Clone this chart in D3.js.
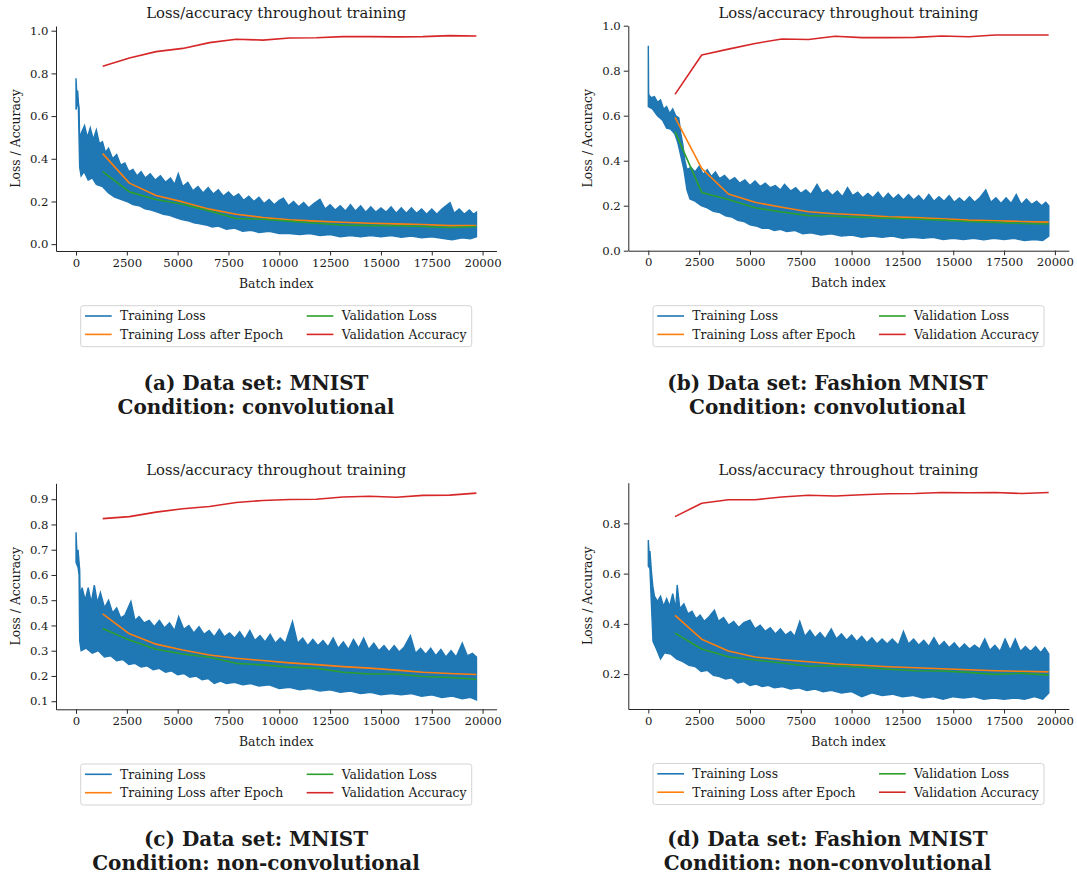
<!DOCTYPE html>
<html>
<head>
<meta charset="utf-8">
<script src="https://cdn.jsdelivr.net/npm/d3@7"></script>
<style>
  body { margin: 0; background: #fff; }
  svg { display: block; }
  text { font-family: "DejaVu Serif", serif; fill: #1a1a1a; }
  .domain, .tick line { stroke: #262626; }
</style>
</head>
<body>
<svg id="chart" width="1077" height="875"></svg>
<script>
// epoch end positions (batch index), shared by all panels
var epochBatches = [1313, 2626, 3939, 5252, 6565, 7878, 9191, 10504, 11817, 13130, 14443, 15756, 17069, 18382, 19695];

var xTicks = [0, 2500, 5000, 7500, 10000, 12500, 15000, 17500, 20000];
var seriesNames = ["Training Loss", "Training Loss after Epoch", "Validation Loss", "Validation Accuracy"];
var seriesColors = ["#1f77b4", "#ff7f0e", "#2ca02c", "#d62728"];

// (a) MNIST, convolutional
var mnistConvEpochLoss = [0.424, 0.286, 0.228, 0.198, 0.164, 0.140, 0.125, 0.114, 0.108, 0.103, 0.098, 0.095, 0.092, 0.087, 0.087];
var mnistConvValLoss = [0.340, 0.245, 0.209, 0.187, 0.156, 0.120, 0.117, 0.108, 0.098, 0.089, 0.087, 0.086, 0.083, 0.078, 0.083];
var mnistConvValAcc = [0.833, 0.872, 0.902, 0.917, 0.944, 0.960, 0.956, 0.966, 0.967, 0.972, 0.972, 0.971, 0.972, 0.977, 0.975];
// noisy training loss, read as upper and lower edge of the band [batch, loss]
var mnistConvTrainHi = [[0,0.777],[40,0.70],[80,0.72],[120,0.66],[150,0.64],[175,0.50],[300,0.53],[420,0.555],[560,0.50],[700,0.545],[850,0.49],[1000,0.535],[1150,0.47],[1300,0.48],[1450,0.43],[1600,0.45],[1800,0.40],[2000,0.42],[2200,0.37],[2400,0.38],[2600,0.34],[2800,0.35],[3000,0.32],[3200,0.34],[3400,0.31],[3650,0.33],[3900,0.30],[4150,0.32],[4400,0.29],[4650,0.31],[4850,0.28],[5030,0.33],[5250,0.27],[5500,0.29],[5750,0.25],[6000,0.27],[6250,0.24],[6500,0.265],[6750,0.235],[7000,0.255],[7250,0.225],[7500,0.245],[7750,0.22],[8000,0.235],[8250,0.205],[8500,0.225],[8750,0.20],[9000,0.22],[9250,0.19],[9500,0.21],[9750,0.185],[10000,0.205],[10200,0.215],[10450,0.18],[10700,0.20],[10950,0.175],[11200,0.195],[11450,0.17],[11700,0.19],[12000,0.21],[12250,0.165],[12500,0.185],[12750,0.16],[13000,0.18],[13250,0.155],[13500,0.185],[13750,0.155],[14000,0.18],[14250,0.15],[14500,0.175],[14750,0.15],[15000,0.17],[15250,0.15],[15500,0.175],[15750,0.145],[16000,0.17],[16250,0.145],[16500,0.17],[16750,0.145],[17000,0.165],[17250,0.14],[17500,0.165],[17750,0.14],[18000,0.165],[18400,0.195],[18600,0.145],[18850,0.165],[19100,0.14],[19350,0.16],[19550,0.14],[19700,0.15]];
var mnistConvTrainLo = [[0,0.63],[60,0.66],[115,0.645],[180,0.36],[250,0.32],[400,0.34],[600,0.30],[800,0.31],[1000,0.28],[1300,0.27],[1600,0.24],[1900,0.22],[2200,0.21],[2500,0.20],[2800,0.185],[3100,0.18],[3400,0.165],[3700,0.16],[4000,0.15],[4300,0.14],[4600,0.135],[4900,0.125],[5200,0.115],[5500,0.11],[5800,0.10],[6100,0.095],[6400,0.09],[6700,0.08],[7000,0.085],[7400,0.07],[7800,0.075],[8200,0.06],[8600,0.065],[9000,0.055],[9500,0.06],[10000,0.05],[10500,0.05],[11000,0.045],[11500,0.05],[12000,0.04],[12500,0.045],[13000,0.035],[13500,0.04],[14000,0.035],[14500,0.04],[15000,0.035],[15500,0.04],[16000,0.032],[16500,0.038],[17000,0.03],[17500,0.035],[18000,0.028],[18500,0.02],[19000,0.03],[19400,0.025],[19700,0.035]];

// (b) Fashion MNIST, convolutional
var fashionConvEpochLoss = [0.593, 0.366, 0.252, 0.215, 0.193, 0.173, 0.164, 0.159, 0.151, 0.147, 0.142, 0.136, 0.133, 0.130, 0.127];
var fashionConvValLoss = [0.529, 0.259, 0.228, 0.191, 0.172, 0.156, 0.153, 0.148, 0.144, 0.141, 0.136, 0.130, 0.126, 0.121, 0.119];
var fashionConvValAcc = [0.695, 0.870, 0.896, 0.921, 0.941, 0.939, 0.953, 0.947, 0.947, 0.948, 0.954, 0.951, 0.959, 0.959, 0.959];
var fashionConvTrainHi = [[0,0.911],[15,0.70],[40,0.69],[150,0.68],[300,0.685],[450,0.66],[600,0.67],[750,0.63],[900,0.64],[1050,0.61],[1200,0.63],[1350,0.60],[1500,0.59],[1600,0.52],[1700,0.47],[1800,0.40],[1900,0.36],[2100,0.37],[2300,0.35],[2500,0.375],[2700,0.34],[2900,0.36],[3100,0.33],[3300,0.35],[3500,0.32],[3750,0.335],[4000,0.31],[4250,0.325],[4500,0.30],[4750,0.315],[5000,0.29],[5250,0.31],[5500,0.285],[5750,0.30],[6000,0.28],[6250,0.29],[6500,0.27],[6700,0.295],[7000,0.265],[7250,0.28],[7500,0.255],[7750,0.27],[8000,0.25],[8300,0.295],[8550,0.255],[8800,0.27],[9050,0.245],[9300,0.265],[9550,0.24],[9800,0.28],[10050,0.245],[10300,0.26],[10550,0.235],[10800,0.255],[11050,0.235],[11300,0.26],[11550,0.23],[11800,0.255],[12050,0.23],[12300,0.25],[12550,0.225],[12800,0.25],[13050,0.225],[13300,0.245],[13550,0.22],[13800,0.25],[14050,0.22],[14300,0.24],[14550,0.22],[14800,0.245],[15050,0.215],[15300,0.235],[15550,0.215],[15800,0.24],[16050,0.215],[16300,0.235],[16600,0.27],[16850,0.215],[17100,0.235],[17350,0.21],[17600,0.235],[17850,0.21],[18100,0.25],[18350,0.205],[18600,0.23],[18850,0.205],[19100,0.22],[19350,0.20],[19550,0.215],[19700,0.20]];
var fashionConvTrainLo = [[0,0.64],[200,0.63],[450,0.60],[700,0.58],[900,0.545],[1100,0.54],[1300,0.52],[1450,0.48],[1600,0.42],[1750,0.36],[1900,0.27],[2050,0.23],[2300,0.22],[2600,0.20],[2900,0.19],[3200,0.175],[3500,0.17],[3800,0.155],[4100,0.15],[4400,0.135],[4700,0.13],[5000,0.115],[5300,0.11],[5600,0.10],[5900,0.10],[6200,0.09],[6500,0.095],[6800,0.085],[7200,0.09],[7600,0.075],[8000,0.08],[8500,0.07],[9000,0.075],[9500,0.065],[10000,0.07],[10500,0.06],[11000,0.065],[11500,0.06],[12000,0.065],[12500,0.055],[13000,0.06],[13500,0.055],[14000,0.06],[14500,0.05],[15000,0.055],[15500,0.05],[16000,0.055],[16500,0.048],[17000,0.055],[17500,0.05],[18000,0.055],[18500,0.045],[19000,0.05],[19400,0.045],[19700,0.065]];

// (c) MNIST, non-convolutional
var mnistDenseEpochLoss = [0.446, 0.367, 0.326, 0.303, 0.283, 0.270, 0.261, 0.252, 0.245, 0.237, 0.231, 0.223, 0.215, 0.210, 0.206];
var mnistDenseValLoss = [0.388, 0.342, 0.306, 0.287, 0.274, 0.250, 0.244, 0.235, 0.231, 0.215, 0.208, 0.208, 0.198, 0.194, 0.187];
var mnistDenseValAcc = [0.823, 0.831, 0.849, 0.862, 0.871, 0.887, 0.895, 0.899, 0.900, 0.909, 0.912, 0.908, 0.915, 0.916, 0.924];
var mnistDenseTrainHi = [[0,0.769],[60,0.66],[100,0.70],[180,0.62],[200,0.52],[300,0.55],[450,0.50],[600,0.55],[750,0.49],[900,0.56],[1050,0.49],[1200,0.53],[1400,0.47],[1600,0.50],[1800,0.45],[2000,0.47],[2200,0.43],[2400,0.44],[2700,0.495],[2900,0.42],[3100,0.435],[3350,0.41],[3600,0.42],[3850,0.395],[4100,0.42],[4350,0.39],[4600,0.41],[4850,0.38],[5050,0.435],[5300,0.385],[5550,0.40],[5800,0.37],[6050,0.395],[6300,0.365],[6550,0.38],[6800,0.355],[7050,0.385],[7300,0.355],[7550,0.37],[7800,0.35],[8050,0.375],[8300,0.345],[8550,0.38],[8800,0.34],[9050,0.36],[9300,0.335],[9550,0.365],[9800,0.33],[10050,0.35],[10300,0.33],[10650,0.415],[10900,0.33],[11150,0.35],[11400,0.32],[11650,0.345],[11900,0.32],[12150,0.34],[12400,0.315],[12650,0.35],[12900,0.31],[13150,0.335],[13400,0.305],[13650,0.345],[13900,0.31],[14150,0.35],[14400,0.305],[14650,0.33],[14900,0.30],[15150,0.32],[15400,0.295],[15650,0.32],[15900,0.295],[16150,0.315],[16450,0.36],[16700,0.29],[16950,0.31],[17200,0.285],[17450,0.31],[17700,0.28],[17950,0.305],[18200,0.275],[18450,0.30],[18700,0.275],[19000,0.33],[19250,0.28],[19500,0.29],[19700,0.275]];
var mnistDenseTrainLo = [[0,0.65],[100,0.63],[150,0.60],[180,0.34],[250,0.30],[500,0.31],[800,0.29],[1100,0.30],[1400,0.275],[1700,0.28],[2000,0.26],[2300,0.265],[2600,0.245],[2900,0.25],[3200,0.235],[3500,0.24],[3800,0.225],[4100,0.23],[4400,0.215],[4700,0.22],[5000,0.205],[5300,0.21],[5600,0.195],[5900,0.20],[6200,0.185],[6500,0.19],[6800,0.17],[7100,0.18],[7400,0.17],[7800,0.175],[8200,0.165],[8600,0.17],[9000,0.16],[9500,0.165],[10000,0.15],[10500,0.155],[11000,0.145],[11500,0.15],[12000,0.14],[12500,0.145],[13000,0.135],[13500,0.14],[14000,0.13],[14500,0.135],[15000,0.125],[15500,0.13],[16000,0.125],[16500,0.13],[17000,0.12],[17500,0.125],[18000,0.115],[18500,0.12],[19000,0.11],[19400,0.115],[19700,0.105]];

// (d) Fashion MNIST, non-convolutional
var fashionDenseEpochLoss = [0.434, 0.339, 0.292, 0.268, 0.257, 0.249, 0.240, 0.235, 0.229, 0.225, 0.221, 0.217, 0.213, 0.211, 0.209];
var fashionDenseValLoss = [0.363, 0.300, 0.269, 0.256, 0.244, 0.231, 0.233, 0.227, 0.219, 0.213, 0.212, 0.207, 0.199, 0.203, 0.196];
var fashionDenseValAcc = [0.827, 0.880, 0.894, 0.894, 0.905, 0.912, 0.909, 0.914, 0.918, 0.919, 0.923, 0.922, 0.923, 0.919, 0.923];
var fashionDenseTrainHi = [[0,0.734],[40,0.68],[80,0.69],[150,0.61],[220,0.55],[300,0.51],[450,0.49],[600,0.51],[750,0.47],[900,0.50],[1050,0.47],[1200,0.52],[1350,0.46],[1420,0.555],[1550,0.46],[1750,0.48],[1950,0.44],[2150,0.45],[2350,0.42],[2550,0.435],[2750,0.41],[2950,0.425],[3250,0.455],[3450,0.41],[3700,0.425],[3950,0.395],[4200,0.41],[4450,0.385],[4700,0.405],[5000,0.415],[5250,0.38],[5500,0.395],[5750,0.37],[6000,0.385],[6250,0.36],[6500,0.38],[6750,0.355],[7000,0.37],[7200,0.35],[7450,0.41],[7700,0.35],[7950,0.375],[8200,0.345],[8450,0.365],[8700,0.34],[9000,0.38],[9250,0.34],[9500,0.36],[9750,0.335],[10000,0.355],[10250,0.33],[10500,0.35],[10750,0.325],[11000,0.345],[11250,0.32],[11500,0.34],[11750,0.32],[12000,0.34],[12300,0.315],[12550,0.37],[12800,0.32],[13050,0.34],[13300,0.315],[13550,0.335],[13800,0.31],[14050,0.345],[14300,0.31],[14550,0.33],[14800,0.305],[15050,0.325],[15300,0.30],[15550,0.32],[15800,0.30],[16050,0.315],[16300,0.30],[16550,0.34],[16800,0.295],[17050,0.315],[17300,0.29],[17550,0.34],[17800,0.295],[18050,0.34],[18300,0.29],[18550,0.31],[18800,0.29],[19050,0.31],[19300,0.285],[19500,0.305],[19700,0.28]];
var fashionDenseTrainLo = [[0,0.63],[80,0.62],[130,0.52],[230,0.33],[400,0.30],[600,0.26],[800,0.285],[1100,0.28],[1400,0.26],[1700,0.25],[2000,0.235],[2300,0.23],[2600,0.21],[2900,0.215],[3200,0.195],[3500,0.19],[3800,0.18],[4100,0.185],[4400,0.165],[4700,0.17],[5000,0.155],[5300,0.16],[5600,0.15],[5900,0.155],[6200,0.145],[6600,0.15],[7000,0.14],[7400,0.145],[7800,0.135],[8200,0.14],[8600,0.13],[9000,0.135],[9500,0.125],[10000,0.13],[10500,0.11],[11000,0.125],[11500,0.115],[12000,0.12],[12500,0.11],[13000,0.115],[13500,0.105],[14000,0.11],[14500,0.10],[15000,0.11],[15500,0.105],[16000,0.11],[16500,0.10],[17000,0.105],[17500,0.10],[18000,0.105],[18500,0.10],[19000,0.11],[19400,0.10],[19700,0.125]];

// panel table built from the arrays above
var panels = [
    { left: 56, top: 26, bottom: 251, yDomain: [-0.032, 1.022], yTicks: [0, 0.2, 0.4, 0.6, 0.8, 1.0],
      hi: mnistConvTrainHi, lo: mnistConvTrainLo, epoch: mnistConvEpochLoss, val: mnistConvValLoss, acc: mnistConvValAcc,
      legendY: 305.7, capX: 256, capY: 383.3, cap: ["(a) Data set: MNIST", "Condition: convolutional"] },
    { left: 628.3, top: 25.7, bottom: 250.7, yDomain: [0, 1.0], yTicks: [0, 0.2, 0.4, 0.6, 0.8, 1.0],
      hi: fashionConvTrainHi, lo: fashionConvTrainLo, epoch: fashionConvEpochLoss, val: fashionConvValLoss, acc: fashionConvValAcc,
      legendY: 305.7, capX: 827.5, capY: 383.3, cap: ["(b) Data set: Fashion MNIST", "Condition: convolutional"] },
    { left: 56, top: 483.3, bottom: 709.3, yDomain: [0.068, 0.963], yTicks: [0.1, 0.2, 0.3, 0.4, 0.5, 0.6, 0.7, 0.8, 0.9],
      hi: mnistDenseTrainHi, lo: mnistDenseTrainLo, epoch: mnistDenseEpochLoss, val: mnistDenseValLoss, acc: mnistDenseValAcc,
      legendY: 764, capX: 256, capY: 839, cap: ["(c) Data set: MNIST", "Condition: non-convolutional"] },
    { left: 628.3, top: 482.7, bottom: 709, yDomain: [0.061, 0.962], yTicks: [0.2, 0.4, 0.6, 0.8],
      hi: fashionDenseTrainHi, lo: fashionDenseTrainLo, epoch: fashionDenseEpochLoss, val: fashionDenseValLoss, acc: fashionDenseValAcc,
      legendY: 763.5, capX: 827.5, capY: 839, cap: ["(d) Data set: Fashion MNIST", "Condition: non-convolutional"] }
];

const axisWidth = 440.5;
const labelSize = "12.4px";
const tickSize = "11.7px";
const svg = d3.select("#chart");

panels.forEach(function(p) {
    var g = svg.append("g");

    var x = d3.scaleLinear().domain([-985, 20685]).range([p.left, p.left + axisWidth]);
    var y = d3.scaleLinear().domain(p.yDomain).range([p.bottom, p.top]);

    /**** Training loss band ****/
    var outline = p.hi.concat(p.lo.slice().reverse());
    var band = d3.line()
        .x(function(d) { return x(d[0]); })
        .y(function(d) { return y(d[1]); });
    g.append("path")
        .attr("d", band(outline) + "Z")
        .attr("fill", seriesColors[0])
        .attr("stroke", seriesColors[0])
        .attr("stroke-width", 1.4)
        .attr("stroke-linejoin", "miter");

    /**** Epoch lines ****/
    var line = d3.line()
        .x(function(d, i) { return x(epochBatches[i]); })
        .y(function(d) { return y(d); });
    [p.epoch, p.val, p.acc].forEach(function(vals, k) {
        g.append("path")
            .attr("d", line(vals))
            .attr("fill", "none")
            .attr("stroke", seriesColors[k + 1])
            .attr("stroke-width", 1.6)
            .attr("stroke-linejoin", "round");
    });

    /**** Axes ****/
    g.append("g")
        .attr("transform", "translate(0," + p.bottom + ")")
        .call(d3.axisBottom(x).tickValues(xTicks).tickFormat(d3.format("d")).tickSize(4.5).tickSizeOuter(0).tickPadding(3))
        .call(function(a) { a.selectAll("text").style("font-size", tickSize).style("font-family", "DejaVu Serif"); });
    g.append("g")
        .attr("transform", "translate(" + p.left + ",0)")
        .call(d3.axisLeft(y).tickValues(p.yTicks).tickFormat(d3.format(".1f")).tickSize(4.5).tickSizeOuter(0).tickPadding(3))
        .call(function(a) { a.selectAll("text").style("font-size", tickSize).style("font-family", "DejaVu Serif"); });
    g.selectAll(".domain").attr("stroke-width", 1);

    var cx = p.left + axisWidth / 2;
    g.append("text")
        .attr("x", cx).attr("y", p.top - 8)
        .attr("text-anchor", "middle")
        .style("font-size", "14.8px")
        .text("Loss/accuracy throughout training");
    g.append("text")
        .attr("x", cx).attr("y", p.bottom + 36.5)
        .attr("text-anchor", "middle")
        .style("font-size", labelSize)
        .text("Batch index");
    g.append("text")
        .attr("transform", "translate(" + (p.left - 36) + "," + ((p.top + p.bottom) / 2) + ") rotate(-90)")
        .attr("text-anchor", "middle")
        .style("font-size", labelSize)
        .text("Loss / Accuracy");

    /**** Legend ****/
    var lx = p.left + 24.7;
    var legend = g.append("g").attr("transform", "translate(" + lx + "," + p.legendY + ")");
    legend.append("rect")
        .attr("x", 0).attr("y", 0)
        .attr("width", 391).attr("height", 41)
        .attr("rx", 2.5)
        .attr("fill", "#fff")
        .attr("stroke", "#d4d4d4")
        .attr("stroke-width", 1);
    seriesNames.forEach(function(name, i) {
        var col = i < 2 ? 0 : 1;
        var row = i % 2;
        var hx = col === 0 ? 4.3 : 226;
        var hy = 10.3 + row * 18.4;
        legend.append("line")
            .attr("x1", hx).attr("x2", hx + 26.7)
            .attr("y1", hy).attr("y2", hy)
            .attr("stroke", seriesColors[i])
            .attr("stroke-width", 1.6);
        legend.append("text")
            .attr("x", hx + 35).attr("y", hy)
            .attr("dy", "0.35em")
            .style("font-size", labelSize)
            .text(name);
    });

    /**** Caption ****/
    p.cap.forEach(function(c, i) {
        g.append("text")
            .attr("x", p.capX).attr("y", p.capY + i * 24)
            .attr("dy", "0.35em")
            .attr("text-anchor", "middle")
            .style("font-size", "20px")
            .style("font-weight", "bold")
            .text(c);
    });
});
</script>
</body>
</html>
